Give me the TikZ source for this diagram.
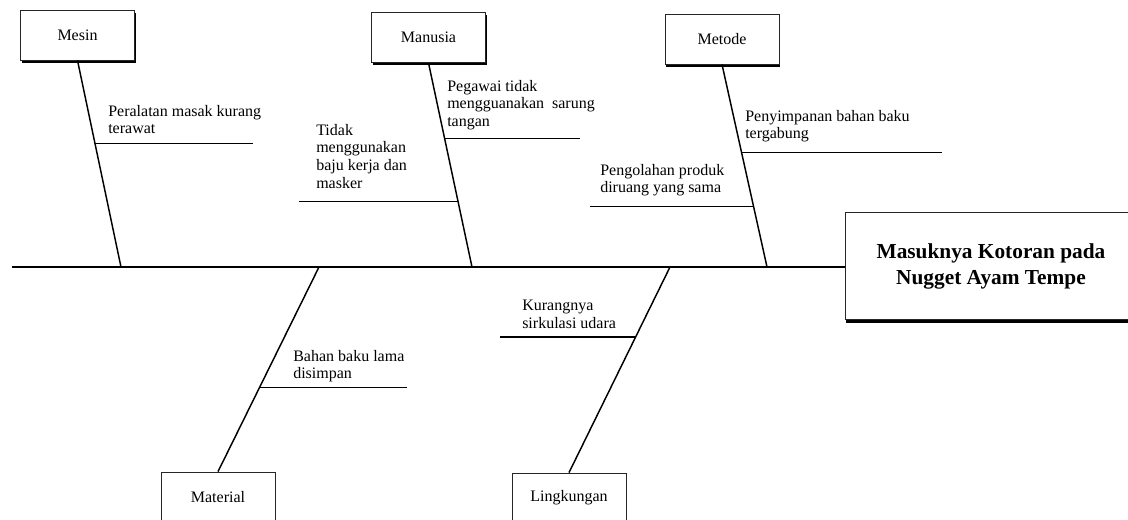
\documentclass[tikz,border=0pt]{standalone}
\usepackage{fontspec}
\setmainfont{Liberation Serif}
\usetikzlibrary{calc,shadows}
\begin{document}
\begin{tikzpicture}[x=0.75pt,y=-0.75pt,
  catbox/.style={draw=black!85, line width=0.6pt, fill=white,
    minimum width=85.5pt, minimum height=37.5pt, inner sep=0pt,
    font=\fontsize{12}{14}\selectfont,
    drop shadow={shadow xshift=0.9pt, shadow yshift=-2.2pt, fill=black, opacity=1}},
  mainbox/.style={draw=black!85, line width=0.6pt, fill=white,
    minimum width=219pt, minimum height=80.5pt, inner sep=0pt, align=center,
    font=\fontsize{16}{19.5}\selectfont\bfseries,
    drop shadow={shadow xshift=0.9pt, shadow yshift=-2.5pt, fill=black, opacity=1}},
  bone/.style={line width=1.1pt, black},
  cause/.style={anchor=north west, inner sep=0pt, align=left,
    font=\fontsize{12}{13.2}\selectfont}]
\clip (0,0) rectangle (1128,519);
\fill[white] (0,0) rectangle (1128,519);

% category boxes
\node[catbox] (mesin) at (77.5,35) {Mesin};
\node[catbox] (manusia) at (428.5,37.5) {Manusia};
\node[catbox] (metode) at (722,39) {Metode};
\node[catbox] (material) at (218,497) {Material};
\node[catbox] (lingk) at (569,498) {Lingkungan};
\node[mainbox] (main) at (991,266) {Masuknya Kotoran pada\\Nugget Ayam Tempe};

% spine
\coordinate (sL) at (12,267);
\draw[bone] (sL) -- (sL -| main.west);

% spine points
\coordinate (pMesin) at (121,267);
\coordinate (pManusia) at (472,267);
\coordinate (pMetode) at (767,267);
\coordinate (pMaterial) at (319,267);
\coordinate (pLingk) at (670,267);

% main bones
\draw[bone] (mesin.south) -- (pMesin);
\draw[bone] (manusia.south) -- (pManusia);
\draw[bone] (metode.south) -- (pMetode);
\draw[bone] (material.north) -- (pMaterial);
\draw[bone] (lingk.north) -- (pLingk);

% free ends of sub-bones
\coordinate (e1) at (253,143);
\coordinate (e2) at (580,138);
\coordinate (e3) at (299,201);
\coordinate (e4) at (942,152);
\coordinate (e5) at (590,206);
\coordinate (e6) at (407,388);
\coordinate (e7) at (500,337);

% sub-bones
\draw[bone] ($(mesin.south)!0.401!(pMesin)$) coordinate (b1) -- (b1 -| e1);
\draw[bone] ($(manusia.south)!0.371!(pManusia)$) coordinate (b2) -- (b2 -| e2);
\draw[bone] ($(manusia.south)!0.678!(pManusia)$) coordinate (b3) -- (b3 -| e3);
\draw[bone] ($(metode.south)!0.436!(pMetode)$) coordinate (b4) -- (b4 -| e4);
\draw[bone] ($(metode.south)!0.701!(pMetode)$) coordinate (b5) -- (b5 -| e5);
\draw[bone] ($(pMaterial)!0.590!(material.north)$) coordinate (b6) -- (b6 -| e6);
\draw[bone] ($(pLingk)!0.340!(lingk.north)$) coordinate (b7) -- (b7 -| e7);

% cause labels
\node[cause] (c1) at (108,105) {Peralatan masak kurang\\terawat};
\node[cause] (c2) at (447,80) {Pegawai tidak\\mengguanakan\hspace{0.25em} sarung\\tangan};
\node[cause] (c3) at (316,124) {Tidak\\menggunakan\\baju kerja dan\\masker};
\node[cause] (c4) at (745,110) {Penyimpanan bahan baku\\tergabung};
\node[cause] (c5) at (600,164) {Pengolahan produk\\diruang yang sama};
\node[cause] (c6) at (293,350) {Bahan baku lama\\disimpan};
\node[cause] (c7) at (522,300) {Kurangnya\\sirkulasi udara};
\end{tikzpicture}
\end{document}
